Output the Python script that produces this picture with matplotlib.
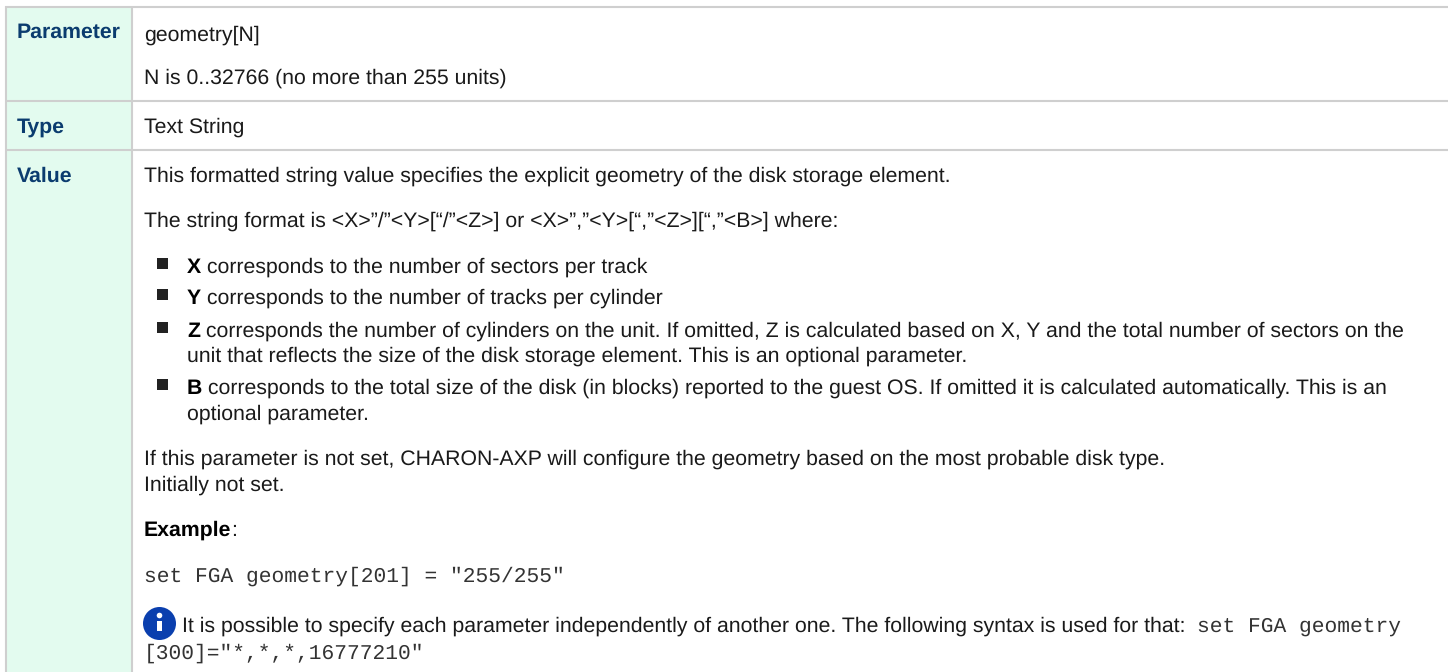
import matplotlib
matplotlib.use('Agg')
from matplotlib import pyplot as plt
from matplotlib.patches import Circle, Rectangle

plt.rcParams['text.hinting'] = 'no_hinting'

W, H = 1448, 672
SANS = 'Liberation Sans'
MONO = 'Liberation Mono'
SIZE = 15.35
MONO_SIZE = 15.3

row_labels = ['Parameter', 'Type', 'Value']
row_label_base = [38, 133, 182]
row_lines = [7, 101, 150]

# each line: baseline, x, list of (text, style)
lines = [
    (41, 144, [('geometry[N]', 'n')]),
    (84, 144, [('N is 0..32766 (no more than 255 units)', 'n')]),
    (133, 144, [('Text String', 'n')]),
    (182, 144, [('This formatted string value specifies the explicit geometry of the disk storage element.', 'n')]),
    (227, 144, [('The string format is <X>”/”<Y>[“/”<Z>] or <X>”,”<Y>[“,”<Z>][“,”<B>] where:', 'n')]),
    (273, 187, [('X', 'b'), (' corresponds to the number of sectors per track', 'n')]),
    (304, 187, [('Y', 'b'), (' corresponds to the number of tracks per cylinder', 'n')]),
    (337, 187, [('Z', 'b'), (' corresponds the number of cylinders on the unit. If omitted, Z is calculated based on X, Y and the total number of sectors on the', 'n')]),
    (362, 187, [('unit that reflects the size of the disk storage element. This is an optional parameter.', 'n')]),
    (394, 187, [('B', 'b'), (' corresponds to the total size of the disk (in blocks) reported to the guest OS. If omitted it is calculated automatically. This is an', 'n')]),
    (420, 187, [('optional parameter.', 'n')]),
    (465, 144, [('If this parameter is not set, CHARON-AXP will configure the geometry based on the most probable disk type.', 'n')]),
    (491, 144, [('Initially not set.', 'n')]),
    (536, 144, [('Example', 'b'), (':', 'n')]),
    (582, 144, [('set FGA geometry[201] = "255/255"', 'm')]),
    (632, 182, [('It is possible to specify each parameter independently of another one. The following syntax is used for that:  ', 'n'),
                ('set FGA geometry', 'm')]),
    (659, 144, [('[300]="*,*,*,16777210"', 'm')]),
]
bullet_base = [273, 304, 337, 394]


def draw_runs(ax, renderer, x, y, runs):
    for text, style in runs:
        kw = {'family': SANS, 'fontsize': SIZE, 'color': '#1a1a1a'}
        if style == 'b':
            kw.update(fontweight='bold', color='#000000')
        if style == 'm':
            kw.update(family=MONO, fontsize=MONO_SIZE, color='#333333')
        ax.text(x, y, text, va='baseline', ha='left', **kw)
        # trailing spaces are not measured, so measure with a stop char
        probe = ax.text(0, 0, text + '|', **kw)
        stop = ax.text(0, 0, '|', **kw)
        x += probe.get_window_extent(renderer).width - stop.get_window_extent(renderer).width
        probe.remove()
        stop.remove()


fig = plt.figure(figsize=(W / 100, H / 100), dpi=100)
ax = fig.add_axes([0, 0, 1, 1])
ax.set_xlim(0, W)
ax.set_ylim(H, 0)
ax.axis('off')
renderer = fig.canvas.get_renderer()

# header column and grid
ax.add_patch(Rectangle((6, 7), 126, H - 7, fc='#e3fbef', ec='none'))
for y in row_lines:
    ax.plot([5, W], [y, y], color='#cfcfcf', lw=1.5, solid_capstyle='butt')
for x in [6, 132]:
    ax.plot([x, x], [6, H], color='#cfcfcf', lw=1.5, solid_capstyle='butt')

for label, y in zip(row_labels, row_label_base):
    ax.text(17, y, label, family=SANS, fontsize=SIZE, fontweight='bold', color='#0b3c6f', va='baseline')

for y, x, runs in lines:
    draw_runs(ax, renderer, x, y, runs)

for y in bullet_base:
    ax.add_patch(Rectangle((157, y - 15), 11, 11, fc='#222222', ec='none'))

# info icon
ax.add_patch(Circle((159.5, 623.5), 16.5, fc='#0a3fae', ec='none'))
ax.add_patch(Rectangle((157, 621), 5, 10, fc='white', ec='none'))
ax.add_patch(Circle((159.5, 615.5), 2.8, fc='white', ec='none'))

fig.savefig('out.png', dpi=100)
